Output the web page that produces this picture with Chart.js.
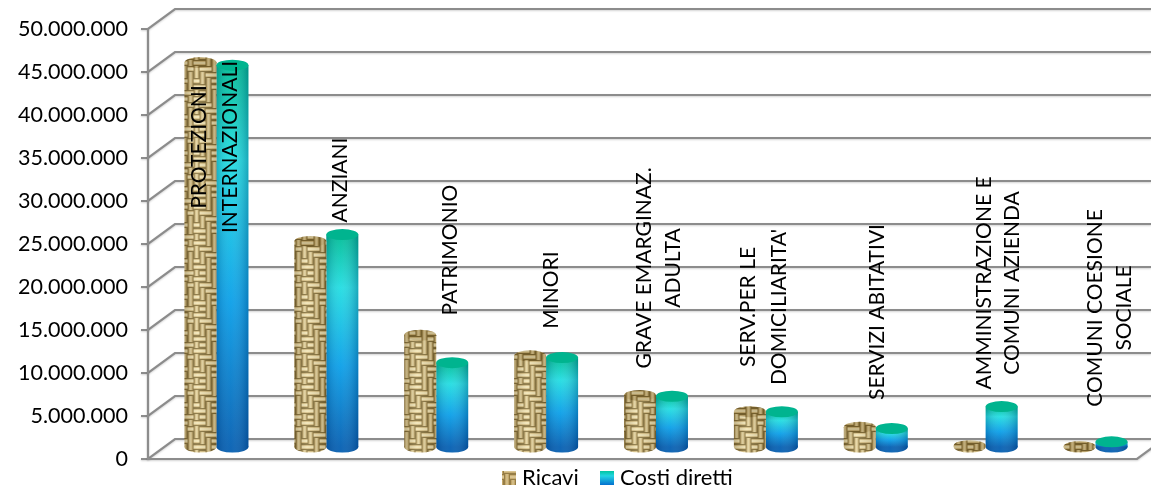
<!DOCTYPE html>
<html>
<head>
<meta charset="utf-8">
<style>
  html, body { margin: 0; padding: 0; background: #fff; }
  #wrap { width: 1151px; height: 489px; }
</style>
<script src="https://cdn.jsdelivr.net/npm/chart.js@4/dist/chart.umd.min.js"></script>
</head>
<body>
<div id="wrap"><canvas id="chart" width="1151" height="489"></canvas></div>
<script>
const categories = [
  ["PROTEZIONI", "INTERNAZIONALI"],
  ["ANZIANI"],
  ["PATRIMONIO"],
  ["MINORI"],
  ["GRAVE EMARGINAZ.", "ADULTA"],
  ["SERV.PER LE", "DOMICILIARITA'"],
  ["SERVIZI ABITATIVI"],
  ["AMMINISTRAZIONE E", "COMUNI AZIENDA"],
  ["COMUNI COESIONE", "SOCIALE"]
];
const ricavi = [44700000, 23900000, 13000000, 10600000, 6000000, 4100000, 2300000, 150000, 50000];
const costiDiretti = [44400000, 24700000, 9800000, 10400000, 5900000, 4100000, 2150000, 4700000, 600000];
const seriesNames = ["Ricavi", "Costi diretti"];

// Placement of the rotated category names: page centre height and sideways offset per line.
const labelCentres = [147, 180, 250, 290, 268, 307, 312, 283, 308];
const labelOffsets = [[-17, 14], [14], [14], [5], [-12, 17], [-18, 13], [1], [-1, 27], [0, 29]];

const DEPTH_X = 27, DEPTH_Y = -20;          // back wall offset
const BAR_DX = 13.5, BAR_DY = -12;          // bars stand half way into the floor
const CAP_RY = 5.5;
const GRID = "#8c8c8c";
const LABEL_FONT = '21px Lato';

// Woven straw texture used for the "Ricavi" cylinders: H cells run across, V cells run down.
const weaveMap = ["HHVVHV", "VHHVVH", "VVHHVV", "HVVHHV", "HHVHVV", "VHVVHH"];
function makeWeave() {
  const cell = 6, n = weaveMap.length, s = cell * n;
  const raw = document.createElement("canvas");
  raw.width = raw.height = s;
  const g = raw.getContext("2d");
  g.fillStyle = "#76622f";
  g.fillRect(0, 0, s, s);
  weaveMap.forEach((row, i) => {
    [...row].forEach((kind, j) => {
      const x = j * cell, y = i * cell;
      if (kind === "H") {
        g.fillStyle = "#d2bb82";
        g.fillRect(x, y + 1, cell, 4);
        g.fillStyle = "#f0e4b8";
        g.fillRect(x, y + 2, cell, 2);
      } else {
        g.fillStyle = "#c6ad70";
        g.fillRect(x + 1, y, 4, cell);
        g.fillStyle = "#e2d2a0";
        g.fillRect(x + 2, y, 2, cell);
      }
    });
  });
  const out = document.createElement("canvas");
  out.width = out.height = s;
  const o = out.getContext("2d");
  // Draw the tile with wrap-around so the softening does not leave seams.
  o.filter = "blur(0.7px)";
  for (let a = -1; a <= 1; a++) {
    for (let b = -1; b <= 1; b++) o.drawImage(raw, a * s, b * s);
  }
  return out;
}
const weave = makeWeave();

function weavePattern(ctx) {
  return ctx.createPattern(weave, "repeat");
}

// Teal top fading through cyan to deep blue at the foot of the bar.
function blueFill(chart, value) {
  const y = chart.scales.y;
  const top = y.getPixelForValue(value), bottom = y.getPixelForValue(0);
  const g = chart.ctx.createLinearGradient(0, top, 0, bottom);
  g.addColorStop(0, "#00bd96");
  g.addColorStop(0.25, "#22dde2");
  g.addColorStop(0.62, "#0a9fe8");
  g.addColorStop(1, "#045fb2");
  return g;
}

function drawLegend(chart) {
  const { ctx } = chart;
  const entries = [
    { x: 502, text: 522 },
    { x: 600, text: 620 }
  ];
  ctx.save();
  ctx.font = '22px Lato';
  ctx.textBaseline = "middle";
  entries.forEach((e, i) => {
    if (i === 0) {
      ctx.fillStyle = weavePattern(ctx);
      ctx.fillRect(e.x, 471, 14, 14);
      ctx.fillStyle = "rgba(190,160,100,0.45)";
      ctx.fillRect(e.x, 471, 14, 14);
    } else {
      const g = ctx.createLinearGradient(0, 471, 0, 485);
      g.addColorStop(0, "#00c4a0");
      g.addColorStop(0.35, "#22d5e2");
      g.addColorStop(1, "#0470cf");
      ctx.fillStyle = g;
      ctx.fillRect(e.x, 471, 14, 14);
    }
    ctx.fillStyle = "#000";
    ctx.fillText(seriesNames[i], e.text, 478);
  });
  ctx.restore();
}

// Wall, floor and axis frame behind the bars.
const frame = {
  id: "frame",
  beforeDatasetsDraw(chart) {
    const { ctx, scales: { x, y } } = chart;
    const left = x.left, right = x.right, base = y.getPixelForValue(0);
    ctx.save();
    ctx.strokeStyle = GRID;
    ctx.lineWidth = 2.2;
    ctx.shadowColor = "rgba(0,0,0,0.18)";
    ctx.shadowBlur = 2;
    ctx.shadowOffsetY = 1;
    y.ticks.forEach(t => {
      const py = y.getPixelForValue(t.value);
      ctx.beginPath();
      ctx.moveTo(left - 7, py);
      ctx.lineTo(left, py);
      ctx.lineTo(left + DEPTH_X, py + DEPTH_Y);
      ctx.lineTo(chart.width, py + DEPTH_Y);
      ctx.stroke();
    });
    ctx.beginPath();
    ctx.moveTo(left, y.getPixelForValue(50000000));
    ctx.lineTo(left, base);
    ctx.lineTo(right, base);
    ctx.lineTo(right + DEPTH_X, base + DEPTH_Y);
    ctx.stroke();
    ctx.restore();

    // Rounded feet of the cylinders, under the bar bodies.
    ctx.save();
    ctx.translate(BAR_DX, BAR_DY);
    chart.data.datasets.forEach((ds, i) => {
      chart.getDatasetMeta(i).data.forEach(bar => {
        ctx.beginPath();
        ctx.ellipse(bar.x, base, bar.width / 2, CAP_RY, 0, 0, Math.PI * 2);
        ctx.fillStyle = i === 0 ? weavePattern(ctx) : "#045fb2";
        ctx.fill();
      });
    });
    ctx.save();
  },
  afterDatasetsDraw(chart) {
    const { ctx, scales: { y } } = chart;
    ctx.restore();
    // Side shading and the top caps of each cylinder.
    chart.data.datasets.forEach((ds, i) => {
      chart.getDatasetMeta(i).data.forEach((bar, k) => {
        const r = bar.width / 2, top = y.getPixelForValue(ds.data[k]), base = y.getPixelForValue(0);
        const shade = ctx.createLinearGradient(bar.x - r, 0, bar.x + r, 0);
        if (i === 0) {
          shade.addColorStop(0, "rgba(90,70,30,0.32)");
          shade.addColorStop(0.4, "rgba(255,245,210,0.22)");
          shade.addColorStop(1, "rgba(90,70,30,0.25)");
        } else {
          shade.addColorStop(0, "rgba(0,30,80,0.22)");
          shade.addColorStop(0.45, "rgba(255,255,255,0.05)");
          shade.addColorStop(1, "rgba(0,30,80,0.28)");
        }
        ctx.beginPath();
        ctx.moveTo(bar.x - r, top);
        ctx.lineTo(bar.x - r, base);
        ctx.ellipse(bar.x, base, r, CAP_RY, 0, Math.PI, 0, true);
        ctx.lineTo(bar.x + r, top);
        ctx.closePath();
        ctx.fillStyle = shade;
        ctx.fill();

        ctx.beginPath();
        ctx.ellipse(bar.x, top, r, CAP_RY, 0, 0, Math.PI * 2);
        ctx.fillStyle = i === 0 ? weavePattern(ctx) : "#00b48f";
        ctx.fill();
        if (i === 0) {
          ctx.fillStyle = "rgba(110,85,40,0.3)";
          ctx.fill();
        }
      });
    });
    ctx.restore();

    // Rotated category names over the bars.
    ctx.save();
    ctx.fillStyle = "#000";
    ctx.font = LABEL_FONT;
    ctx.textAlign = "center";
    ctx.textBaseline = "middle";
    categories.forEach((lines, k) => {
      const cx = chart.scales.x.getPixelForTick(k) + BAR_DX;
      lines.forEach((line, n) => {
        ctx.save();
        ctx.translate(cx + labelOffsets[k][n], labelCentres[k]);
        ctx.rotate(-Math.PI / 2);
        ctx.fillText(line, 0, 0);
        ctx.restore();
      });
    });
    ctx.restore();

    drawLegend(chart);
  }
};

new Chart(document.getElementById("chart"), {
  type: "bar",
  data: {
    labels: categories,
    datasets: [
      {
        label: seriesNames[0],
        data: ricavi,
        backgroundColor: c => weavePattern(c.chart.ctx),
        barPercentage: 1,
        categoryPercentage: 64 / 110
      },
      {
        label: seriesNames[1],
        data: costiDiretti,
        backgroundColor: c => c.chart.chartArea ? blueFill(c.chart, c.raw) : "#0a9fe8",
        barPercentage: 1,
        categoryPercentage: 64 / 110
      }
    ]
  },
  options: {
    responsive: false,
    animation: false,
    layout: { padding: { top: 29, right: 14, bottom: 30, left: 0 } },
    scales: {
      x: {
        display: false,
        grid: { display: false, drawTicks: false },
        border: { display: false },
        ticks: { display: false }
      },
      y: {
        min: 0,
        max: 50000000,
        // Fixed axis width; the plot height comes from the layout padding alone.
        afterFit: s => { s.width = 148; s.paddingTop = 0; s.paddingBottom = 0; },
        grid: { display: false, drawTicks: false },
        border: { display: false },
        ticks: {
          stepSize: 5000000,
          padding: 20,
          color: "#000",
          font: { family: "Lato", size: 21.5 },
          callback: v => v === 0 ? "0" : v.toLocaleString("de-DE")
        }
      }
    },
    plugins: {
      tooltip: { enabled: false },
      legend: { display: false }
    }
  },
  plugins: [frame]
});
</script>
</body>
</html>
